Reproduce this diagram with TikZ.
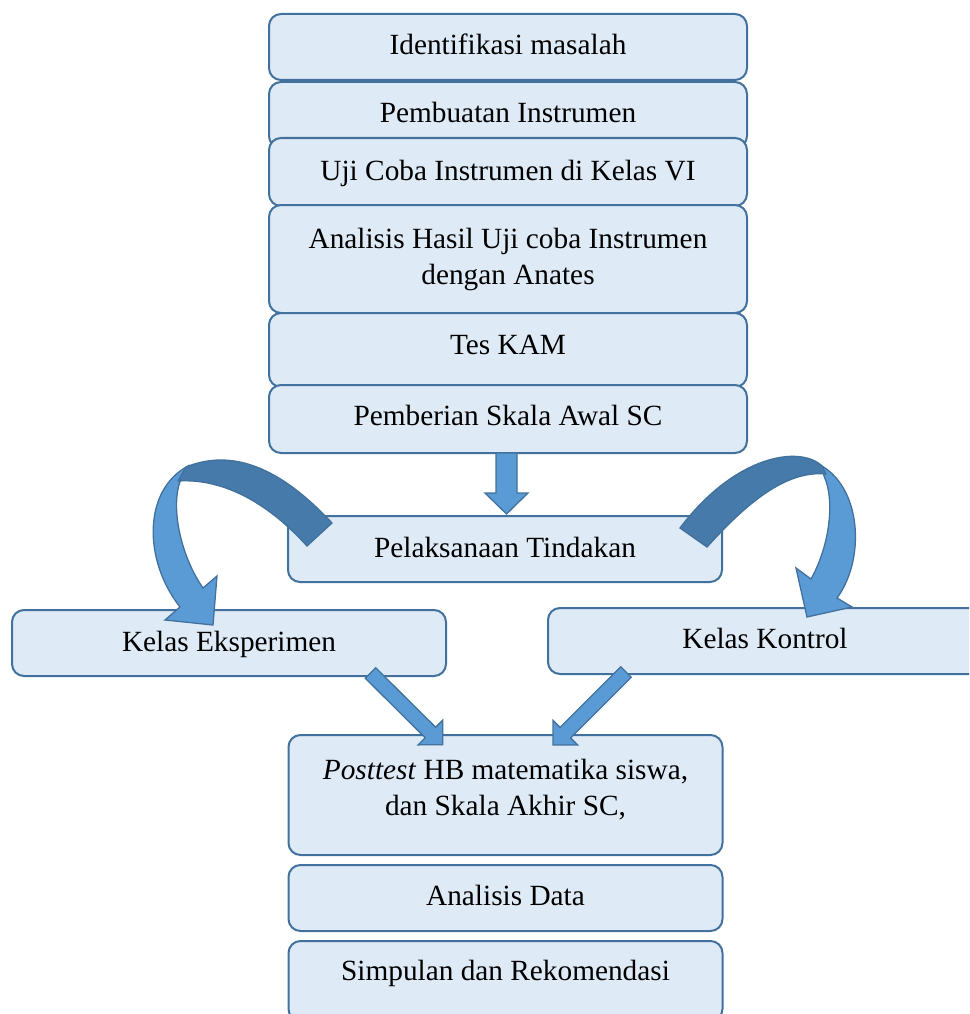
\documentclass[tikz,border=0pt]{standalone}
\usepackage{fontspec}
\setmainfont{Liberation Serif}
\usetikzlibrary{calc}
\definecolor{boxfill}{HTML}{DEEAF6}
\definecolor{boxline}{HTML}{41719C}
\definecolor{arrfill}{HTML}{5B9BD5}
\definecolor{arrdark}{RGB}{70,122,170}
\tikzset{
  stage/.style={draw=boxline, fill=boxfill, line width=2pt, rounded corners=12pt,
    minimum width=#1, inner sep=0pt, outer sep=0pt,
    font=\fontsize{29.3}{36}\selectfont, text height=20pt},
  barrow/.style={draw=boxline, fill=arrfill, line width=1.3pt, line join=miter},
  darkband/.style={draw=boxline, fill=arrdark, line width=1.3pt},
}
% block arrow: #1 from, #2 to, #3 shaft half width, #4 head half width, #5 head length
\newcommand\blockarr[5]{%
  \path #1; \pgfgetlastxy{\baAx}{\baAy}%
  \path #2; \pgfgetlastxy{\baBx}{\baBy}%
  \pgfmathsetmacro\baAng{atan2(\baBy-\baAy,\baBx-\baAx)}%
  \pgfmathsetmacro\baLen{veclen(\baBx-\baAx,\baBy-\baAy)}%
  \pgfmathsetmacro\baNeck{\baLen-#5}%
  \draw[barrow, shift={(\baAx,\baAy)}, rotate=\baAng]
    (0pt,#3pt) -- (\baNeck pt,#3pt) -- (\baNeck pt,#4pt) -- (\baLen pt,0pt)
    -- (\baNeck pt,-#4pt) -- (\baNeck pt,-#3pt) -- (0pt,-#3pt) -- cycle;%
}
\begin{document}
\begin{tikzpicture}[x=1pt,y=-1pt]
\useasboundingbox (0,0) rectangle (969,1014);
\begin{scope}
\clip (0,0) rectangle (969,1014);
% upper column
\node[stage=478pt, minimum height=66pt, text depth=4pt] (ident) at (508,47) {Identifikasi masalah};
\node[stage=478pt, minimum height=66pt, text depth=4pt] (pemb) at (508,115) {Pembuatan Instrumen};
\node[stage=478pt, minimum height=68pt, text depth=4pt] (uji) at (508,172) {Uji Coba Instrumen di Kelas VI};
\node[stage=478pt, minimum height=108pt, text depth=42pt] (anal) at (508,259)
  {\begin{tabular}[t]{@{}c@{}}Analisis Hasil Uji coba Instrumen\\dengan Anates\end{tabular}};
\node[stage=478pt, minimum height=74pt, text depth=12pt] (tes) at (508,350) {Tes KAM};
\node[stage=478pt, minimum height=68pt, text depth=8pt] (pembr) at (508,419) {Pemberian Skala Awal SC};
% middle
\node[stage=434pt, minimum height=66pt, text depth=4pt] (pel) at (505,549) {Pelaksanaan Tindakan};
\node[stage=434pt, minimum height=66pt, text depth=4pt] (eks) at (229,643) {Kelas Eksperimen};
\node[stage=434pt, minimum height=66pt, text depth=6pt] (kon) at (765,641) {Kelas Kontrol};
% lower column
\node[stage=434pt, minimum height=120pt, text depth=52pt] (post) at (505.5,795)
  {\begin{tabular}[t]{@{}c@{}}\textit{Posttest} HB matematika siswa,\\dan Skala Akhir SC,\end{tabular}};
\node[stage=434pt, minimum height=66pt, text depth=6pt] (adata) at (505.5,898) {Analisis Data};
\node[stage=434pt, minimum height=80pt, text depth=22pt] (simp) at (505.5,981) {Simpulan dan Rekomendasi};
% straight block arrows
\blockarr{($(pembr.south)+(-1.5,0)$)}{($(pel.north)+(1.5,-2)$)}{10.5}{21.5}{21}
\blockarr{($(eks.south)+(141.5,-3)$)}{($(post.north)+(-62.5,10)$)}{7.4}{17.4}{17.4}
\blockarr{($(kon.south)+(-139,-2)$)}{($(post.north)+(47.5,10)$)}{7.4}{17.4}{17.4}
% left curved arrow
\draw[barrow] (188,466) .. controls (143,490) and (143,560) .. (180,607)
  -- (165,620) -- (213,625) -- (217,576) -- (203,588)
  .. controls (180,555) and (170,505) .. (181,479) -- cycle;
\draw[darkband] (332,523) .. controls (290,478) and (240,445) .. (186,467)
  -- (178,481) .. controls (225,478) and (270,505) .. (307,546) -- cycle;
% right curved arrow
\draw[barrow] (822,466) .. controls (862,490) and (865,560) .. (837,598)
  -- (852,607) -- (807,617) -- (796,568) -- (811,579)
  .. controls (830,545) and (835,500) .. (824,476) -- cycle;
\draw[darkband] (680,528) .. controls (735,455) and (800,445) .. (822,466)
  -- (826,474) .. controls (785,470) and (745,505) .. (707,547) -- cycle;
\end{scope}
\end{tikzpicture}
\end{document}
